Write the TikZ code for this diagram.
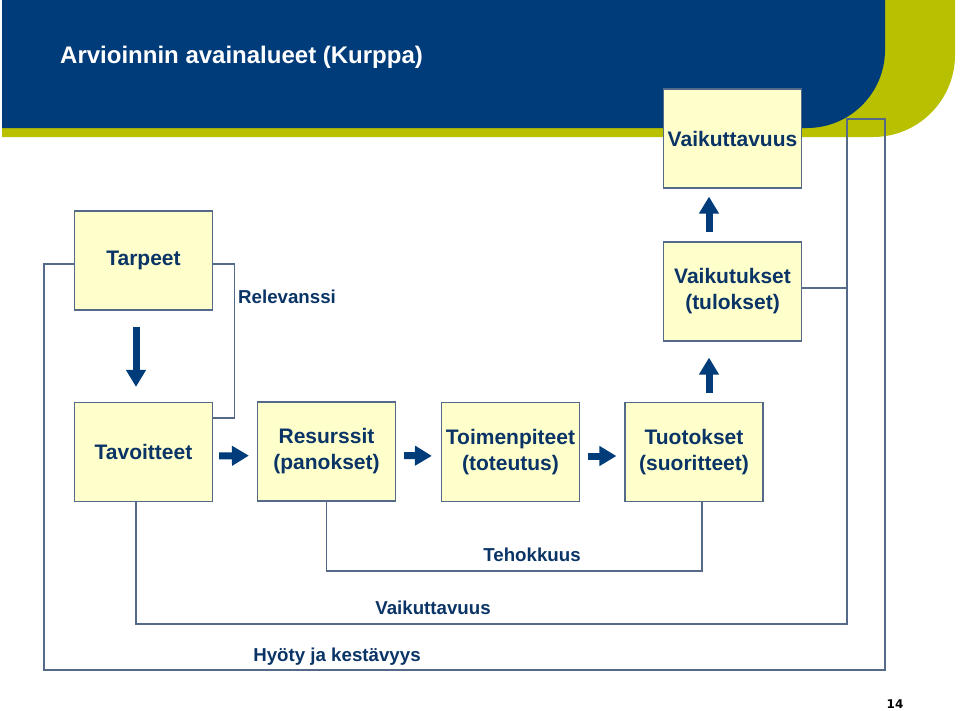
\documentclass[tikz,border=0pt]{standalone}
\usepackage{fontspec}
\setmainfont{Liberation Sans}
\newfontfamily\pagefont{DejaVu Sans}
\usetikzlibrary{arrows.meta}

\definecolor{headblue}{RGB}{0,59,122}
\definecolor{headgreen}{RGB}{184,192,0}
\definecolor{boxfill}{RGB}{255,255,204}
\definecolor{boxline}{RGB}{84,106,136}
\definecolor{textblue}{RGB}{10,52,102}

\tikzset{
  box/.style={draw=boxline, line width=1.2pt, fill=boxfill, minimum width=138pt,
    minimum height=99pt, align=center, text=textblue, inner sep=0pt,
    font=\bfseries\fontsize{21}{26}\selectfont},
  link/.style={draw=boxline, line width=1.2pt},
  barrow/.style={headblue, line width=7pt, -{Triangle[length=17pt,width=19pt]}},
  lbl/.style={text=textblue, inner sep=0pt, font=\bfseries\fontsize{18.7}{22}\selectfont},
}

\begin{document}
\begin{tikzpicture}[x=1pt,y=-1pt]

    % Fix the page size
    \useasboundingbox (0,0) rectangle (960,710);

    % Draw the header band
    \fill[headgreen] (2,0) -- (955,0) [rounded corners=82pt] -- (955,137) [sharp corners] -- (2,137) -- cycle;
    \fill[headblue] (2,0) -- (885,0) [rounded corners=78pt] -- (885,128) [sharp corners] -- (2,128) -- cycle;
    \node[anchor=base west, inner sep=0pt, text=white, font=\bfseries\fontsize{24}{28}\selectfont]
        (title) at (60,63) {Arvioinnin avainalueet (Kurppa)};

    % Place the boxes
    \node[box] (vaik) at (732.5,138.5) {Vaikuttavuus};
    \node[box] (vaikut) at (732.5,291.5) {Vaikutukset\\(tulokset)};
    \node[box] (tarpeet) at (143.5,260.5) {Tarpeet};
    \node[box] (tavoitteet) at (143.5,452) {Tavoitteet};
    \node[box] (resurssit) at (326.5,451.5) {Resurssit\\(panokset)};
    \node[box] (toimen) at (510.5,452) {Toimenpiteet\\(toteutus)};
    \node[box] (tuotokset) at (694,452) {Tuotokset\\(suoritteet)};

    % Draw the outer loop (Hyoty ja kestavyys)
    \draw[link] ([yshift=-3.5pt]tarpeet.west) -| (44,670) -| (885,119) -| (847,288);

    % Draw the middle loop (Vaikuttavuus)
    \draw[link] ([xshift=-7.5pt]tavoitteet.south) |- (847,624) |- ([yshift=3.5pt]vaikut.east);

    % Draw the inner loop (Tehokkuus)
    \draw[link] (resurssit.south) |- (702,571) -- ([xshift=8pt]tuotokset.south);

    % Draw the relevance link
    \draw[link] ([yshift=-3.5pt]tarpeet.east) -- ++(21,0) |- ([yshift=34pt]tavoitteet.east);

    % Draw the block arrows
    \draw[barrow, shorten <=16pt, shorten >=15pt] ([xshift=-7.5pt]tarpeet.south) -- ([xshift=-7.5pt]tavoitteet.north);
    \draw[barrow, shorten <=6pt, shorten >=8pt] ([yshift=-4pt]tavoitteet.east) -- ([yshift=-4pt]resurssit.west);
    \draw[barrow, shorten <=8pt, shorten >=9pt] ([yshift=-4pt]resurssit.east) -- ([yshift=-4pt]toimen.west);
    \draw[barrow, shorten <=8pt, shorten >=8pt] ([yshift=-4pt]toimen.east) -- ([yshift=-4pt]tuotokset.west);
    \coordinate (upx) at ([xshift=15pt]tuotokset.north);
    \draw[barrow, shorten <=9pt, shorten >=16pt] (upx) -- (upx |- vaikut.south);
    \draw[barrow, shorten <=9pt, shorten >=8pt] (upx |- vaikut.north) -- (upx |- vaik.south);

    % Add the labels
    \node[lbl, anchor=west] (relevanssi) at (238,297) {Relevanssi};
    \node[lbl] (tehokkuus) at (532,555) {Tehokkuus};
    \node[lbl] (vaikuttavuus) at (433,608) {Vaikuttavuus};
    \node[lbl] (hyoty) at (337,657) {Hyöty ja kestävyys};

    % Add the page number
    \node[font=\pagefont\bfseries\fontsize{12}{14}\selectfont, inner sep=0pt] (page) at (895,704) {14};

\end{tikzpicture}
\end{document}
